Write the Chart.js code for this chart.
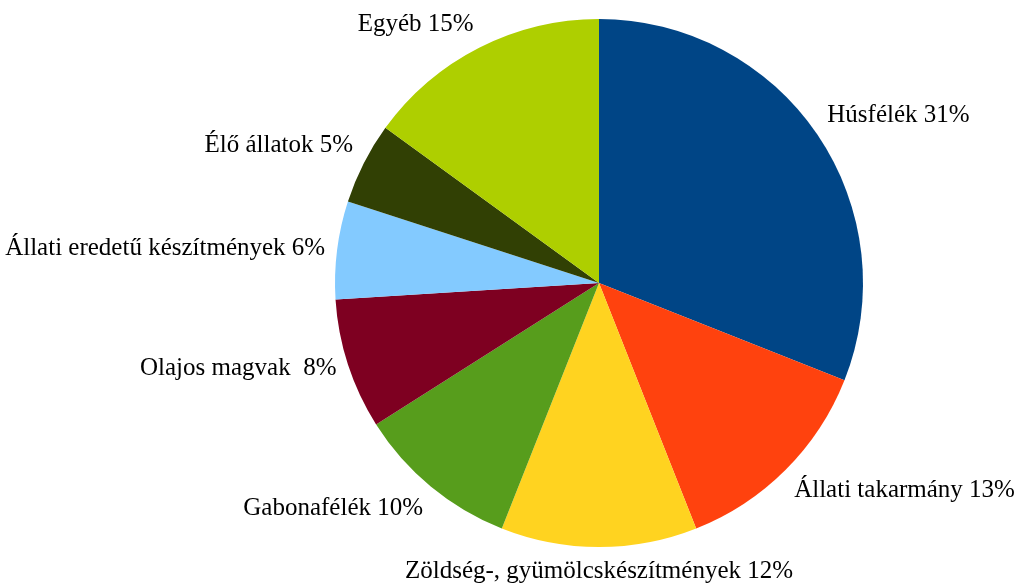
<!DOCTYPE html>
<html>
<head>
<meta charset="utf-8">
<script src="https://cdn.jsdelivr.net/npm/chart.js@4"></script>
<style>
  html, body { margin: 0; padding: 0; background: #fff; }
  #wrap { width: 1015px; height: 588px; }
</style>
</head>
<body>
<div id="wrap"><canvas id="chart" width="1015" height="588"></canvas></div>
<script>
const categories = ['Húsfélék', 'Állati takarmány', 'Zöldség-, gyümölcskészítmények', 'Gabonafélék',
  'Olajos magvak ', 'Állati eredetű készítmények', 'Élő állatok', 'Egyéb'];
const shares = [31, 13, 12, 10, 8, 6, 5, 15];
const colors = ['#004586', '#ff420e', '#ffd320', '#579d1c', '#7e0021', '#83caff', '#314004', '#aecf00'];

// címkék a szeletek mellé, LibreOffice-szerű elhelyezéssel
const outsideLabels = {
  id: 'outsideLabels',
  afterDraw(chart) {
    const c = chart.ctx;
    const meta = chart.getDatasetMeta(0);
    c.save();
    c.font = '25px "Liberation Serif", "Times New Roman", serif';
    c.fillStyle = '#000';
    meta.data.forEach((arc, i) => {
      const mid = (arc.startAngle + arc.endAngle) / 2;
      const r = arc.outerRadius + 12;
      const x = arc.x + Math.cos(mid) * r;
      const y = arc.y + Math.sin(mid) * r;
      const sx = Math.cos(mid), sy = Math.sin(mid);
      c.textAlign = sx > 0.3 ? 'left' : (sx < -0.3 ? 'right' : 'center');
      c.textBaseline = sy < -0.4 ? 'bottom' : (sy > 0.4 ? 'top' : 'middle');
      c.fillText(categories[i] + ' ' + shares[i] + '%', x, y);
    });
    c.restore();
  }
};

new Chart(document.getElementById('chart').getContext('2d'), {
  type: 'pie',
  data: {
    labels: categories,
    datasets: [{ data: shares, backgroundColor: colors, borderWidth: 0 }]
  },
  options: {
    animation: false,
    responsive: false,
    layout: { padding: { top: 19, bottom: 41, left: 335, right: 152 } },
    plugins: { legend: { display: false }, tooltip: { enabled: false } }
  },
  plugins: [outsideLabels]
});
</script>
</body>
</html>
